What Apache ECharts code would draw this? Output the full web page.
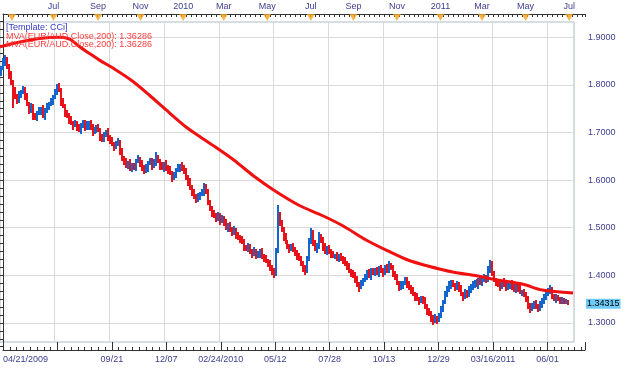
<!DOCTYPE html>
<html><head><meta charset="utf-8">
<script src="https://cdn.jsdelivr.net/npm/echarts@6/dist/echarts.min.js"></script>
<style>html,body{margin:0;padding:0;background:#fff}#c{width:625px;height:368px}</style>
</head><body><div id="c"></div>
<script>
// 2-trading-day OHLC bars, EUR/AUD, starting 04/21/2009
const opens = [
1.825,1.835,1.848,1.852,1.838,1.820,1.805,1.790,1.775,1.765,
1.780,1.785,1.790,1.775,1.760,1.745,1.755,1.735,1.730,1.740,
1.745,1.750,1.735,1.745,1.755,1.760,1.765,1.775,1.785,1.795,
1.790,1.765,1.755,1.740,1.735,1.725,1.720,1.715,1.720,1.710,
1.705,1.715,1.720,1.710,1.715,1.720,1.710,1.700,1.705,1.710,
1.705,1.690,1.685,1.695,1.700,1.690,1.685,1.675,1.670,1.675,
1.680,1.660,1.645,1.640,1.630,1.635,1.625,1.630,1.625,1.640,
1.645,1.635,1.625,1.620,1.625,1.635,1.640,1.630,1.635,1.645,
1.640,1.630,1.625,1.635,1.625,1.620,1.615,1.605,1.610,1.620,
1.625,1.630,1.625,1.620,1.605,1.595,1.585,1.575,1.565,1.560,
1.565,1.570,1.575,1.585,1.575,1.555,1.540,1.530,1.525,1.520,
1.525,1.515,1.520,1.510,1.500,1.505,1.495,1.490,1.495,1.485,
1.480,1.475,1.470,1.460,1.455,1.460,1.450,1.445,1.450,1.440,
1.445,1.450,1.440,1.435,1.430,1.425,1.415,1.410,1.400,1.450,
1.520,1.510,1.495,1.480,1.470,1.460,1.455,1.460,1.455,1.445,
1.440,1.435,1.425,1.415,1.410,1.435,1.470,1.490,1.470,1.455,
1.460,1.480,1.475,1.460,1.450,1.455,1.450,1.445,1.440,1.440,
1.435,1.440,1.435,1.430,1.425,1.420,1.410,1.405,1.400,1.390,
1.380,1.375,1.385,1.390,1.395,1.405,1.400,1.410,1.405,1.410,
1.405,1.415,1.410,1.405,1.415,1.410,1.420,1.415,1.405,1.395,
1.385,1.375,1.380,1.385,1.390,1.380,1.375,1.370,1.360,1.355,
1.350,1.345,1.350,1.345,1.335,1.325,1.320,1.310,1.305,1.310,
1.305,1.315,1.330,1.345,1.360,1.370,1.380,1.385,1.380,1.375,
1.380,1.370,1.360,1.355,1.365,1.360,1.370,1.375,1.380,1.385,
1.380,1.390,1.385,1.390,1.395,1.390,1.410,1.425,1.405,1.390,
1.385,1.380,1.375,1.385,1.380,1.375,1.380,1.385,1.375,1.370,
1.380,1.370,1.365,1.365,1.360,1.350,1.335,1.330,1.335,1.340,
1.335,1.330,1.340,1.345,1.355,1.360,1.365,1.370,1.355,1.350,
1.355,1.350,1.345,1.350,1.345,1.345];
const closes = [
1.835,1.848,1.852,1.838,1.820,1.805,1.790,1.775,1.765,1.780,
1.785,1.790,1.775,1.760,1.745,1.755,1.735,1.730,1.740,1.745,
1.750,1.735,1.745,1.755,1.760,1.765,1.775,1.785,1.795,1.790,
1.765,1.755,1.740,1.735,1.725,1.720,1.715,1.720,1.710,1.705,
1.715,1.720,1.710,1.715,1.720,1.710,1.700,1.705,1.710,1.705,
1.690,1.685,1.695,1.700,1.690,1.685,1.675,1.670,1.675,1.680,
1.660,1.645,1.640,1.630,1.635,1.625,1.630,1.625,1.640,1.645,
1.635,1.625,1.620,1.625,1.635,1.640,1.630,1.635,1.645,1.640,
1.630,1.625,1.635,1.625,1.620,1.615,1.605,1.610,1.620,1.625,
1.630,1.625,1.620,1.605,1.595,1.585,1.575,1.565,1.560,1.565,
1.570,1.575,1.585,1.575,1.555,1.540,1.530,1.525,1.520,1.525,
1.515,1.520,1.510,1.500,1.505,1.495,1.490,1.495,1.485,1.480,
1.475,1.470,1.460,1.455,1.460,1.450,1.445,1.450,1.440,1.445,
1.450,1.440,1.435,1.430,1.425,1.415,1.410,1.400,1.450,1.520,
1.510,1.495,1.480,1.470,1.460,1.455,1.460,1.455,1.445,1.440,
1.435,1.425,1.415,1.410,1.435,1.470,1.490,1.470,1.455,1.460,
1.480,1.475,1.460,1.450,1.455,1.450,1.445,1.440,1.440,1.435,
1.440,1.435,1.430,1.425,1.420,1.410,1.405,1.400,1.390,1.380,
1.375,1.385,1.390,1.395,1.405,1.400,1.410,1.405,1.410,1.405,
1.415,1.410,1.405,1.415,1.410,1.420,1.415,1.405,1.395,1.385,
1.375,1.380,1.385,1.390,1.380,1.375,1.370,1.360,1.355,1.350,
1.345,1.350,1.345,1.335,1.325,1.320,1.310,1.305,1.310,1.305,
1.315,1.330,1.345,1.360,1.370,1.380,1.385,1.380,1.375,1.380,
1.370,1.360,1.355,1.365,1.360,1.370,1.375,1.380,1.385,1.380,
1.390,1.385,1.390,1.395,1.390,1.410,1.425,1.405,1.390,1.385,
1.380,1.375,1.385,1.380,1.375,1.380,1.385,1.375,1.370,1.380,
1.370,1.365,1.365,1.360,1.350,1.335,1.330,1.335,1.340,1.335,
1.330,1.340,1.345,1.355,1.360,1.365,1.370,1.355,1.350,1.355,
1.350,1.345,1.350,1.345,1.345,1.34315];
const lows = [
1.819,1.831,1.840,1.833,1.813,1.800,1.751,1.771,1.759,1.761,
1.772,1.780,1.768,1.755,1.738,1.741,1.727,1.726,1.724,1.736,
1.737,1.730,1.727,1.741,1.748,1.756,1.757,1.770,1.778,1.785,
1.756,1.751,1.732,1.730,1.718,1.715,1.706,1.711,1.704,1.701,
1.697,1.710,1.703,1.705,1.706,1.706,1.692,1.696,1.699,1.701,
1.682,1.680,1.679,1.690,1.683,1.676,1.671,1.662,1.665,1.671,
1.653,1.641,1.632,1.625,1.623,1.620,1.616,1.621,1.619,1.636,
1.627,1.620,1.613,1.615,1.616,1.631,1.621,1.625,1.629,1.636,
1.622,1.621,1.617,1.620,1.613,1.610,1.596,1.601,1.604,1.616,
1.617,1.620,1.612,1.600,1.588,1.580,1.566,1.561,1.552,1.555,
1.558,1.566,1.567,1.570,1.548,1.535,1.522,1.520,1.513,1.515,
1.506,1.510,1.503,1.496,1.492,1.490,1.482,1.485,1.476,1.475,
1.467,1.466,1.452,1.450,1.448,1.445,1.436,1.440,1.434,1.436,
1.437,1.435,1.427,1.425,1.417,1.410,1.401,1.395,1.398,1.446,
1.503,1.490,1.472,1.465,1.456,1.446,1.450,1.449,1.440,1.432,
1.430,1.420,1.407,1.400,1.405,1.430,1.465,1.462,1.450,1.447,
1.455,1.468,1.452,1.445,1.443,1.445,1.436,1.436,1.434,1.431,
1.427,1.430,1.423,1.420,1.411,1.405,1.397,1.395,1.383,1.375,
1.365,1.371,1.377,1.385,1.390,1.395,1.391,1.401,1.399,1.401,
1.397,1.405,1.397,1.400,1.405,1.405,1.411,1.397,1.390,1.380,
1.367,1.370,1.372,1.380,1.373,1.370,1.361,1.356,1.347,1.345,
1.337,1.341,1.340,1.330,1.316,1.315,1.302,1.296,1.300,1.298,
1.301,1.310,1.322,1.340,1.355,1.365,1.371,1.376,1.367,1.370,
1.365,1.356,1.347,1.350,1.352,1.355,1.363,1.370,1.374,1.376,
1.372,1.380,1.377,1.385,1.383,1.385,1.404,1.398,1.385,1.377,
1.375,1.367,1.371,1.375,1.366,1.370,1.372,1.370,1.365,1.362,
1.365,1.360,1.357,1.355,1.343,1.330,1.321,1.325,1.329,1.330,
1.322,1.325,1.332,1.340,1.348,1.356,1.360,1.350,1.345,1.342,
1.345,1.340,1.340,1.340,1.339,1.338];
const highs = [
1.840,1.856,1.862,1.859,1.844,1.829,1.810,1.796,1.780,1.788,
1.789,1.797,1.796,1.784,1.765,1.761,1.759,1.742,1.745,1.753,
1.754,1.757,1.751,1.761,1.765,1.773,1.779,1.792,1.801,1.805,
1.794,1.772,1.760,1.747,1.741,1.734,1.725,1.726,1.725,1.718,
1.719,1.727,1.726,1.724,1.725,1.726,1.717,1.711,1.715,1.718,
1.709,1.697,1.702,1.706,1.709,1.695,1.691,1.679,1.683,1.688,
1.684,1.667,1.650,1.647,1.641,1.644,1.635,1.636,1.645,1.653,
1.649,1.642,1.631,1.634,1.640,1.646,1.646,1.644,1.660,1.653,
1.644,1.637,1.639,1.642,1.631,1.629,1.620,1.616,1.625,1.633,
1.634,1.637,1.631,1.626,1.611,1.604,1.590,1.581,1.570,1.572,
1.574,1.582,1.594,1.592,1.581,1.559,1.546,1.537,1.531,1.534,
1.530,1.526,1.524,1.518,1.509,1.512,1.501,1.504,1.500,1.491,
1.484,1.482,1.476,1.464,1.467,1.466,1.456,1.459,1.455,1.451,
1.455,1.458,1.444,1.442,1.434,1.432,1.421,1.415,1.458,1.548,
1.534,1.516,1.501,1.489,1.475,1.466,1.465,1.468,1.459,1.454,
1.446,1.441,1.430,1.422,1.441,1.479,1.500,1.496,1.474,1.467,
1.490,1.486,1.480,1.467,1.461,1.464,1.455,1.451,1.445,1.448,
1.444,1.447,1.441,1.439,1.430,1.426,1.414,1.412,1.406,1.399,
1.385,1.391,1.394,1.402,1.411,1.414,1.415,1.416,1.415,1.418,
1.419,1.422,1.416,1.422,1.424,1.429,1.426,1.421,1.410,1.403,
1.389,1.387,1.389,1.397,1.396,1.389,1.380,1.376,1.365,1.363,
1.354,1.357,1.356,1.354,1.340,1.331,1.324,1.317,1.318,1.314,
1.320,1.336,1.349,1.367,1.378,1.389,1.390,1.391,1.384,1.387,
1.386,1.379,1.365,1.371,1.369,1.377,1.381,1.389,1.390,1.393,
1.394,1.397,1.395,1.402,1.401,1.419,1.433,1.431,1.410,1.394,
1.393,1.387,1.391,1.394,1.385,1.386,1.389,1.391,1.382,1.385,
1.386,1.379,1.370,1.371,1.364,1.357,1.341,1.342,1.345,1.349,
1.339,1.346,1.352,1.361,1.365,1.373,1.380,1.376,1.360,1.361,
1.359,1.354,1.355,1.353,1.350,1.349];
// 200-period moving average (trading-day index -> value)
const maDays   = [0,20,40,60,70,80,90,100,115,133,150,167,187,200,215,235,255,275,300,325,345,368,390,410,430,455,480,500,525,545,576];
const maValues = [1.880,1.890,1.8975,1.900,1.896,1.880,1.866,1.852,1.8334,1.8082,1.7788,1.7473,1.7116,1.6926,1.6716,1.6422,1.6086,1.5792,1.5477,1.5246,1.5036,1.4742,1.4511,1.4321,1.4195,1.4069,1.3985,1.3901,1.3817,1.3691,1.3629];
const maLast = 1.36286;
const lastPrice = 1.34315;
// axis labels
const bottomLabels = ['04/21/2009','','09/21','12/07','02/24/2010','05/12','07/28','10/13','12/29','03/16/2011','06/01'];
const monthDays   = [9,51,96,139,182,223,267,311,354,398,442,484,528,572];
const monthLabels = ['','Jul','Sep','Nov','2010','Mar','May','Jul','Sep','Nov','2011','Mar','May','Jul'];
const priceTicks  = [1.3,1.4,1.5,1.6,1.7,1.8,1.9];

const FONT = '"Liberation Sans", Arial, sans-serif';
const LBL = '#3d3d8f';
const AX = '#333333';
const UP = '#1266cc', DOWN = '#e8121a';

const barData = closes.map((c, i) => [2 * i + 1, opens[i], c, lows[i], highs[i]]);
const maData = maDays.map((d, i) => [d, maValues[i]]);
const minorPrice = [];
for (let k = 75; k <= 116; k++) { if (k % 6 !== 0) minorPrice.push(k / 60); }

const Y0 = [1.243067, 1.94895];
const Y1 = [1.25987, 1.93214];
const triY = Y0[1] - 3.5 / 476;

function renderOHLC(params, api) {
  const x = api.value(0), o = api.value(1), c = api.value(2), l = api.value(3), h = api.value(4);
  const pl = api.coord([x, l]), ph = api.coord([x, h]);
  const left = Math.round(pl[0]) - 1;
  const top = Math.round(ph[1]);
  return {type: 'rect', shape: {x: left, y: top, width: 2, height: Math.max(1, Math.round(pl[1]) - top)},
          style: {fill: c >= o ? UP : DOWN}};
}

const chart = echarts.init(document.getElementById('c'), null, {renderer: 'canvas'});
chart.setOption({
  animation: false,
  backgroundColor: '#ffffff',
  title: [
    {text: '[Template: CCi]', left: 6, top: 23, padding: 0,
     textStyle: {fontSize: 9, fontWeight: 'normal', color: '#3a3ac4', fontFamily: FONT}},
    {text: 'MVA(EUR/AUD.Close,200): ' + maLast.toFixed(5), left: 6, top: 32, padding: 0,
     textStyle: {fontSize: 9, fontWeight: 'normal', color: '#ff3c3c', fontFamily: FONT}},
    {text: 'MVA(EUR/AUD.Close,200): ' + maLast.toFixed(5), left: 6, top: 40.5, padding: 0,
     textStyle: {fontSize: 9, fontWeight: 'normal', color: '#ff3c3c', fontFamily: FONT}}
  ],
  grid: [
    {left: 0, right: 40, top: 14, bottom: 18, show: false},
    {left: 0, right: 51, top: 22, bottom: 26, show: true, borderColor: '#c9d3dd', borderWidth: 1.5, backgroundColor: 'transparent'}
  ],
  xAxis: [
    {gridIndex: 0, type: 'value', position: 'bottom', min: 0, max: 588, interval: 55,
     axisLine: {show: true, lineStyle: {color: AX, width: 1}},
     axisTick: {show: true, inside: true, length: 8, lineStyle: {color: AX}},
     minorTick: {show: true, splitNumber: 8, length: 3, lineStyle: {color: AX}},
     splitLine: {show: false},
     axisLabel: {margin: 5, color: LBL, fontSize: 9, fontFamily: FONT, showMaxLabel: false, alignMinLabel: 'left',
       formatter: v => { const k = Math.round(v / 55); return Math.abs(v - k * 55) < 0.01 && bottomLabels[k] ? bottomLabels[k] : ''; }}},
    {gridIndex: 0, type: 'value', position: 'top', min: 0, max: 588, interval: 5,
     axisLine: {show: true, lineStyle: {color: AX, width: 1}},
     axisTick: {show: true, inside: true, length: 3, lineStyle: {color: AX}},
     splitLine: {show: false},
     axisLabel: {customValues: monthDays, margin: 3, color: LBL, fontSize: 9, fontFamily: FONT,
       formatter: v => { const i = monthDays.indexOf(Math.round(v)); return i >= 0 ? monthLabels[i] : ''; }}},
    {gridIndex: 1, type: 'value', min: 0, max: 577, interval: 55,
     axisLine: {show: false}, axisTick: {show: false}, axisLabel: {show: false},
     splitLine: {show: true, lineStyle: {color: '#d9d9d9', width: 1}}}
  ],
  yAxis: [
    {gridIndex: 0, type: 'value', position: 'right', min: Y0[0], max: Y0[1],
     axisLine: {show: true, lineStyle: {color: AX, width: 1}},
     axisTick: {show: true, inside: true, length: 6, customValues: priceTicks, lineStyle: {color: AX}},
     splitLine: {show: false},
     axisLabel: {customValues: priceTicks, margin: 3, color: LBL, fontSize: 9, fontFamily: FONT,
       formatter: v => v.toFixed(4)}},
    {gridIndex: 0, type: 'value', position: 'right', min: Y0[0], max: Y0[1],
     axisLine: {show: false},
     axisTick: {show: true, inside: true, length: 3, customValues: minorPrice, lineStyle: {color: AX}},
     splitLine: {show: false}, axisLabel: {show: false}},
    {gridIndex: 1, type: 'value', position: 'right', min: Y1[0], max: Y1[1],
     axisLine: {show: false}, axisTick: {show: false, customValues: priceTicks}, axisLabel: {show: false},
     splitLine: {show: true, lineStyle: {color: '#d9d9d9', width: 1}}}
  ],
  series: [
    {type: 'scatter', xAxisIndex: 1, yAxisIndex: 0, silent: true, clip: false,
     data: monthDays.map(d => [d, triY]), symbol: 'triangle', symbolRotate: 180, symbolSize: [8, 7],
     itemStyle: {color: '#f5a21e'}, z: 5},
    {type: 'custom', xAxisIndex: 2, yAxisIndex: 2, data: barData, renderItem: renderOHLC, silent: true,
     encode: {x: 0, y: [1, 2, 3, 4]}, clip: true,
     markLine: {silent: true, symbol: 'none', animation: false,
       lineStyle: {color: 'rgba(0,0,0,0)', width: 0},
       label: {show: true, position: 'end', distance: 12, formatter: lastPrice.toFixed(5),
         backgroundColor: '#6ccbf7', color: '#000', fontSize: 9, fontFamily: FONT, padding: [1, 1, 0, 1]},
       data: [{yAxis: lastPrice}]}},
    {type: 'line', xAxisIndex: 2, yAxisIndex: 2, data: maData, showSymbol: false, smooth: 0.3, silent: true,
     lineStyle: {color: '#f01010', width: 3}, z: 4}
  ]
});
</script></body></html>
